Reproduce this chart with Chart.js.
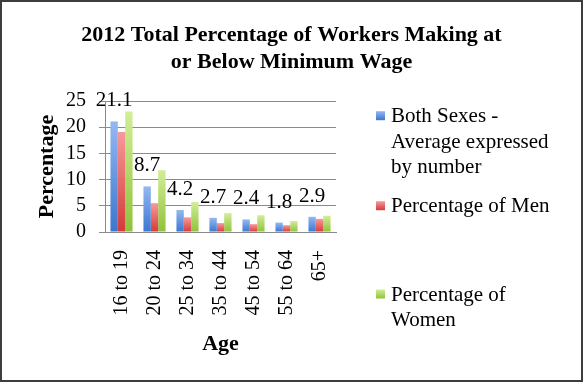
<!DOCTYPE html>
<html>
<head>
<meta charset="utf-8">
<script src="https://cdn.jsdelivr.net/npm/chart.js@4"></script>
<style>
  body { margin: 0; background: #fff; }
  #wrap { position: relative; width: 583px; height: 384px; }
  #frame { position: absolute; left: 0; top: 0; width: 583px; height: 382px;
           border: 2px solid #3d3d3d; box-sizing: border-box; pointer-events: none; }
</style>
</head>
<body>
<div id="wrap">
  <canvas id="chart" width="583" height="384"></canvas>
  <div id="frame"></div>
</div>
<script>
// Data
const ageGroups = ['16 to 19', '20 to 24', '25 to 34', '35 to 44', '45 to 54', '55 to 64', '65+'];
const bothSexes = [21.1, 8.7, 4.2, 2.7, 2.4, 1.8, 2.9];
const men = [19.1, 5.5, 2.8, 1.7, 1.5, 1.3, 2.5];
const women = [23.0, 11.8, 5.7, 3.6, 3.2, 2.1, 3.1];
const seriesNames = ['Both Sexes - Average expressed by number', 'Percentage of Men', 'Percentage of Women'];
const yTicks = [0, 5, 10, 15, 20, 25];
const titleLines = ['2012 Total Percentage of Workers Making at', 'or Below Minimum Wage'];

const FONT = "'Liberation Serif', 'Times New Roman', serif";
// light top / dark bottom, like the Excel bar fill
const shades = [
    ['#95b8f2', '#3a76cf'],
    ['#f79a9a', '#d43a3a'],
    ['#d2ee98', '#8fc23a']
];

function barFill(idx) {
    return function(context) {
        const chart = context.chart;
        if (!chart.chartArea || context.type !== 'data') return shades[idx][1];
        const y = chart.scales.y;
        const top = y.getPixelForValue(context.raw);
        const base = y.getPixelForValue(0);
        if (!isFinite(top) || base - top < 1) return shades[idx][1];
        const g = chart.ctx.createLinearGradient(0, top, 0, base);
        g.addColorStop(0, shades[idx][0]);
        g.addColorStop(1, shades[idx][1]);
        return g;
    };
}

// value labels above the blue bars only
const valueLabels = {
    id: 'valueLabels',
    afterDatasetsDraw(chart) {
        const meta = chart.getDatasetMeta(0);
        const ctx = chart.ctx;
        ctx.save();
        ctx.font = '21px ' + FONT;
        ctx.fillStyle = '#000';
        ctx.textAlign = 'center';
        ctx.textBaseline = 'alphabetic';
        meta.data.forEach((bar, i) => {
            ctx.fillText(bothSexes[i].toFixed(1), bar.x, bar.y - 15);
        });
        ctx.restore();
    }
};

// chart title centred over the whole canvas (the built-in one is clipped by the padding)
const wideTitle = {
    id: 'wideTitle',
    afterDraw(chart) {
        const ctx = chart.ctx;
        ctx.save();
        ctx.font = 'bold 22px ' + FONT;
        ctx.fillStyle = '#000';
        ctx.textAlign = 'center';
        ctx.textBaseline = 'middle';
        titleLines.forEach((line, i) => {
            ctx.fillText(line, chart.width / 2, 35 + i * 27);
        });
        ctx.restore();
    }
};

// word-wrapped legend on the right, Excel style
const legendTops = [116.7, 206.7, 295];
const sideLegend = {
    id: 'sideLegend',
    afterDraw(chart) {
        const ctx = chart.ctx;
        ctx.save();
        ctx.font = '21px ' + FONT;
        ctx.textAlign = 'left';
        ctx.textBaseline = 'middle';
        chart.data.datasets.forEach((ds, i) => {
            // wrap the label to about 175px
            const words = ds.label.split(' ');
            const lines = [];
            let cur = '';
            words.forEach(w => {
                const test = cur ? cur + ' ' + w : w;
                if (cur && ctx.measureText(test).width > 175) {
                    lines.push(cur);
                    cur = w;
                } else {
                    cur = test;
                }
            });
            lines.push(cur);

            const y0 = legendTops[i];
            const g = ctx.createLinearGradient(0, y0 - 5.5, 0, y0 + 3.5);
            g.addColorStop(0, shades[i][0]);
            g.addColorStop(1, shades[i][1]);
            ctx.fillStyle = g;
            ctx.fillRect(376, y0 - 5.5, 9, 9);

            ctx.fillStyle = '#000';
            lines.forEach((line, k) => {
                ctx.fillText(line, 391, y0 + k * 25.5);
            });
        });
        ctx.restore();
    }
};

const chart = new Chart(document.getElementById('chart'), {
    type: 'bar',
    data: {
        labels: ageGroups,
        datasets: [
            { label: seriesNames[0], data: bothSexes, backgroundColor: barFill(0) },
            { label: seriesNames[1], data: men, backgroundColor: barFill(1) },
            { label: seriesNames[2], data: women, backgroundColor: barFill(2) }
        ]
    },
    options: {
        responsive: false,
        animation: false,
        categoryPercentage: 0.67,
        barPercentage: 1.0,
        layout: { padding: { left: 34, right: 247, top: 101, bottom: 22.8 } },
        scales: {
            x: {
                afterFit(scale) { scale.height = 129.2; },
                grid: { display: false, drawTicks: false },
                border: { display: true, color: '#8a8a8a' },
                ticks: {
                    color: '#000',
                    font: { family: FONT, size: 20 },
                    minRotation: 90,
                    maxRotation: 90,
                    autoSkip: false,
                    padding: 18
                },
                title: {
                    display: true,
                    text: 'Age',
                    color: '#000',
                    font: { family: FONT, size: 22, weight: 'bold', lineHeight: 1.2 },
                    padding: { top: 15.2, bottom: 4 }
                }
            },
            y: {
                min: 0,
                max: 25,
                afterFit(scale) { scale.width = 71; },
                afterBuildTicks(axis) {
                    axis.ticks = yTicks.map(v => ({ value: v }));
                },
                grid: { color: '#8a8a8a', tickLength: 6 },
                border: { display: true, color: '#8a8a8a' },
                ticks: {
                    color: '#000',
                    font: { family: FONT, size: 20 },
                    autoSkip: false,
                    padding: 13
                },
                title: {
                    display: true,
                    text: 'Percentage',
                    color: '#000',
                    font: { family: FONT, size: 22, weight: 'bold', lineHeight: 1.2 },
                    padding: { top: 0, bottom: 0 }
                }
            }
        },
        plugins: {
            legend: { display: false },
            tooltip: { enabled: false },
            title: { display: false }
        }
    },
    plugins: [valueLabels, wideTitle, sideLegend]
});
</script>
</body>
</html>
